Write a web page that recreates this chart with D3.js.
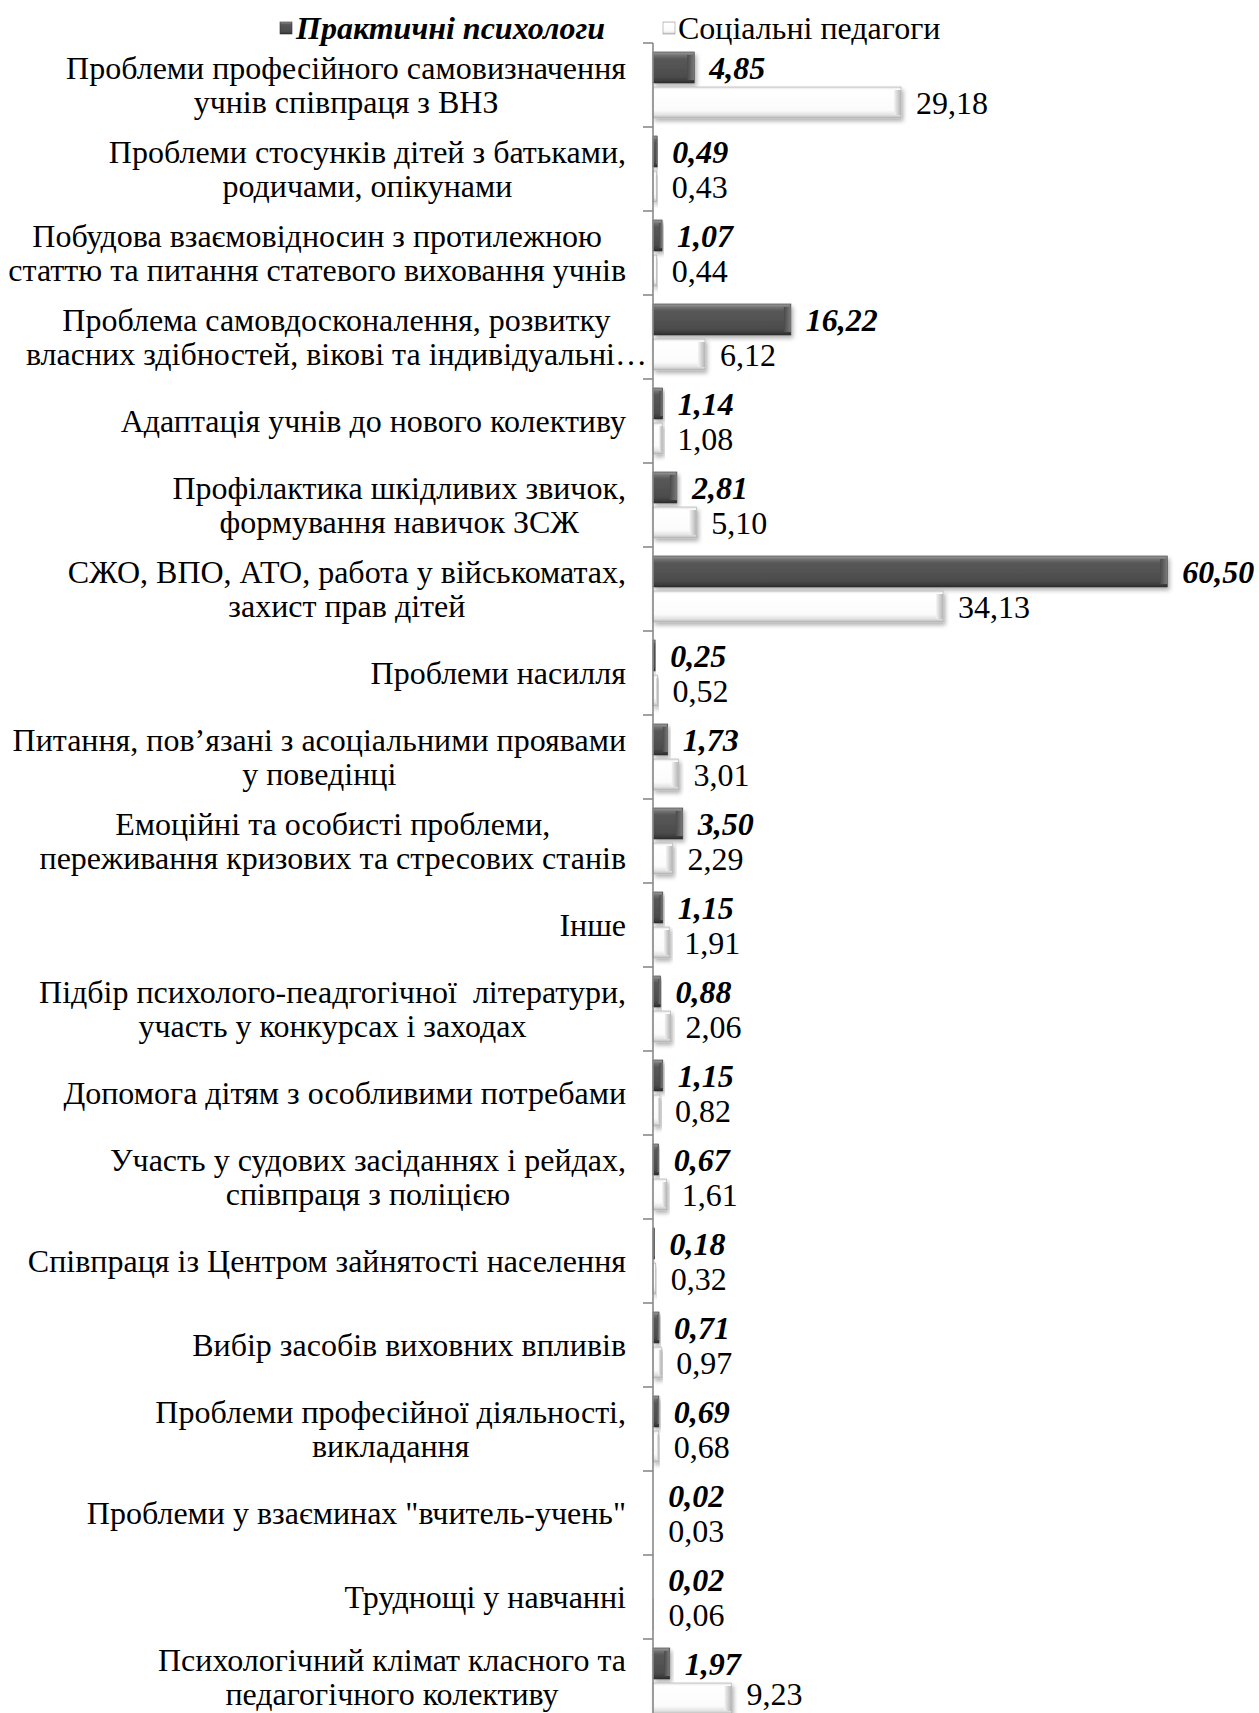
<!DOCTYPE html>
<html><head><meta charset="utf-8">
<script src="https://cdn.jsdelivr.net/npm/d3@7"></script>
<style>html,body{margin:0;padding:0;background:#fff;overflow:hidden}</style>
</head><body>
<svg id="chart" width="1259" height="1713"></svg>
<script>
const categories = [
  "Проблеми професійного самовизначення\nучнів співпраця з ВНЗ",
  "Проблеми стосунків дітей з батьками,\nродичами, опікунами",
  "Побудова взаємовідносин з протилежною\nстаттю та питання статевого виховання учнів",
  "Проблема самовдосконалення, розвитку\nвласних здібностей, вікові та індивідуальні…",
  "Адаптація учнів до нового колективу",
  "Профілактика шкідливих звичок,\nформування навичок ЗСЖ",
  "СЖО, ВПО, АТО, работа у військоматах,\nзахист прав дітей",
  "Проблеми насилля",
  "Питання, пов’язані з асоціальними проявами\nу поведінці",
  "Емоційні та особисті проблеми,\nпереживання кризових та стресових станів",
  "Інше",
  "Підбір психолого-пеадгогічної  літератури,\nучасть у конкурсах і заходах",
  "Допомога дітям з особливими потребами",
  "Участь у судових засіданнях і рейдах,\nспівпраця з поліцією",
  "Співпраця із Центром зайнятості населення",
  "Вибір засобів виховних впливів",
  "Проблеми професійної діяльності,\nвикладання",
  "Проблеми у взаєминах \"вчитель-учень\"",
  "Труднощі у навчанні",
  "Психологічний клімат класного та\nпедагогічного колективу"
];
const seriesNames = ["Практичні психологи", "Соціальні педагоги"];
const psychologists = [4.85, 0.49, 1.07, 16.22, 1.14, 2.81, 60.50, 0.25, 1.73, 3.50, 1.15, 0.88, 1.15, 0.67, 0.18, 0.71, 0.69, 0.02, 0.02, 1.97];
const socialPedagogues = [29.18, 0.43, 0.44, 6.12, 1.08, 5.10, 34.13, 0.52, 3.01, 2.29, 1.91, 2.06, 0.82, 1.61, 0.32, 0.97, 0.68, 0.03, 0.06, 9.23];
const xMax = 70;

const FONT = "'Liberation Serif', 'Times New Roman', serif";
const FSZ = 32, FS = FSZ + "px";
const W = 1259, H = 1713;
const svg = d3.select("#chart");
const axisX = 653, plotTop = 43, bandStep = 84;
const x = d3.scaleLinear().domain([0, xMax]).range([axisX, axisX + 595]);
const y = d3.scaleBand().domain(d3.range(categories.length))
  .range([plotTop, plotTop + bandStep * categories.length]);
const inner = d3.scaleBand().domain([0, 1]).range([9, 75]).paddingInner(0.114);
const fmt = d3.formatLocale({decimal: ",", thousands: " ", grouping: [3], currency: ["", ""]}).format(".2f");
// keep a text's glyph box inside the picture's bottom edge
const fitY = cy => Math.min(cy, H - 1 - FSZ * (0.216 + 0.35));

const defs = svg.append("defs");
const gDark = defs.append("linearGradient").attr("id", "gDark").attr("x1", 0).attr("y1", 0).attr("x2", 0).attr("y2", 1);
[[0, "#a0a0a0"], [0.1, "#747474"], [0.22, "#585858"], [0.8, "#4c4c4c"], [0.92, "#3c3c3c"], [1, "#282828"]]
  .forEach(([o, c]) => gDark.append("stop").attr("offset", o).attr("stop-color", c));
const gLight = defs.append("linearGradient").attr("id", "gLight").attr("x1", 0).attr("y1", 0).attr("x2", 0).attr("y2", 1);
[[0, "#e4e4e4"], [0.1, "#ffffff"], [0.75, "#fbfbfb"], [0.9, "#e2e2e2"], [1, "#b8b8b8"]]
  .forEach(([o, c]) => gLight.append("stop").attr("offset", o).attr("stop-color", c));
const gEdgeL = defs.append("linearGradient").attr("id", "gEdgeL").attr("x1", 0).attr("y1", 0).attr("x2", 1).attr("y2", 0);
[[0, "#f4f4f4"], [1, "#b4b4b4"]].forEach(([o, c]) => gEdgeL.append("stop").attr("offset", o).attr("stop-color", c));
const gEdgeD = defs.append("linearGradient").attr("id", "gEdgeD").attr("x1", 0).attr("y1", 0).attr("x2", 1).attr("y2", 0);
[[0, "#4a4a4a"], [1, "#7a7a7a"]].forEach(([o, c]) => gEdgeD.append("stop").attr("offset", o).attr("stop-color", c));
const sh = defs.append("filter").attr("id", "shadow").attr("x", "-10%").attr("y", "-20%").attr("width", "130%").attr("height", "160%");
sh.append("feDropShadow").attr("dx", 2).attr("dy", 3).attr("stdDeviation", 2).attr("flood-color", "#000").attr("flood-opacity", 0.3);

// Bars
const rows = categories.map((c, i) => ({i, vals: [psychologists[i], socialPedagogues[i]]}));
const bars = svg.append("g");
rows.forEach(r => {
  r.vals.forEach((v, s) => {
    const by = y(r.i) + inner(s), bh = inner.bandwidth();
    const bw = x(v) - x(0);
    if (bw < 0.5) return;
    const g = bars.append("g").attr("filter", "url(#shadow)");
    g.append("rect").attr("x", x(0)).attr("y", by).attr("width", bw).attr("height", bh)
      .attr("fill", s === 0 ? "url(#gDark)" : "url(#gLight)")
      .attr("stroke", s === 0 ? "#333" : "#aaa").attr("stroke-width", 0.6);
    const ew = Math.min(7, bw / 3);
    g.append("rect").attr("x", x(v) - ew).attr("y", by + 3).attr("width", ew).attr("height", bh - 6)
      .attr("fill", s === 0 ? "url(#gEdgeD)" : "url(#gEdgeL)");
  });
});

// Axis
const axis = svg.append("g").attr("stroke", "#8a8a8a").attr("stroke-width", 1.6);
axis.append("line").attr("x1", axisX).attr("x2", axisX).attr("y1", y(0)).attr("y2", H);
d3.range(categories.length + 1).forEach(k => {
  const ty = plotTop + k * bandStep;
  axis.append("line").attr("x1", axisX - 10).attr("x2", axisX).attr("y1", ty).attr("y2", ty);
});

// Value labels
const vl = svg.append("g").style("font-family", FONT).style("font-size", FS);
rows.forEach(r => {
  r.vals.forEach((v, s) => {
    vl.append("text").attr("x", x(v) + 15)
      .attr("y", fitY(y(r.i) + inner(s) + inner.bandwidth() / 2))
      .attr("dy", "0.35em")
      .style("font-weight", s === 0 ? "bold" : "normal")
      .style("font-style", s === 0 ? "italic" : "normal")
      .attr("fill", "#000").text(fmt(v));
  });
});

// Category labels
const cl = svg.append("g").style("font-family", FONT).style("font-size", FS);
const lineH = 34;
categories.forEach((c, i) => {
  const lines = c.split("\n");
  const truncated = c.endsWith("…");
  const labelRight = truncated ? axisX - 6 : 626;
  const cy = y(i) + bandStep / 2;
  const lastY = cy + ((lines.length - 1) / 2) * lineH;
  const shift = fitY(lastY) - lastY;
  const g = cl.append("g");
  const ts = lines.map((ln, k) => g.append("text")
    .attr("y", cy + shift + (k - (lines.length - 1) / 2) * lineH).attr("dy", "0.35em")
    .attr("text-anchor", "middle").attr("fill", "#000").attr("xml:space", "preserve").text(ln));
  const maxW = d3.max(ts, t => t.node().getComputedTextLength());
  ts.forEach(t => t.attr("x", labelRight - maxW / 2));
});

// Legend
const lg = svg.append("g").style("font-family", FONT).style("font-size", FS);
const legendY = 28;
const legendItems = [
  {name: seriesNames[0], mx: 280, tx: 296, fill: "url(#gDark)", stroke: "#333", bold: true},
  {name: seriesNames[1], mx: 663, tx: 678, fill: "url(#gLight)", stroke: "#999", bold: false}
];
legendItems.forEach(it => {
  lg.append("rect").attr("x", it.mx).attr("y", legendY - 6).attr("width", 12).attr("height", 12)
    .attr("fill", it.fill).attr("stroke", it.stroke).attr("stroke-width", 0.6);
  lg.append("text").attr("x", it.tx).attr("y", legendY).attr("dy", "0.35em")
    .style("font-weight", it.bold ? "bold" : "normal").style("font-style", it.bold ? "italic" : "normal")
    .text(it.name);
});
</script>
</body></html>
